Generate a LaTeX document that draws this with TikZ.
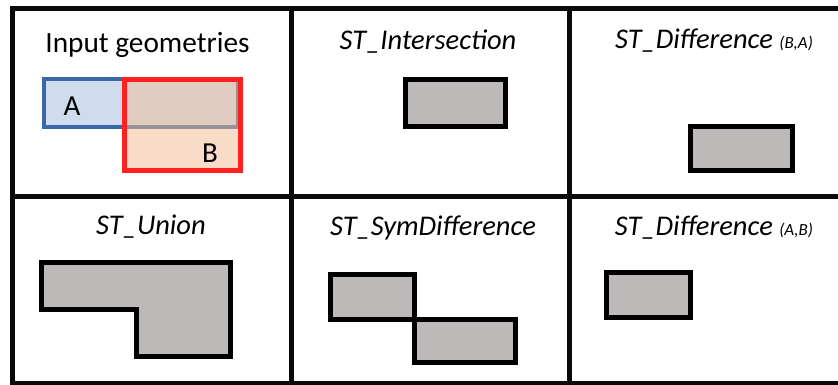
\documentclass[tikz,border=0pt]{standalone}
\usepackage{fontspec}
\setmainfont{Carlito}
\definecolor{gridk}{HTML}{0A0A0A}
\definecolor{ablue}{HTML}{CFDCEE}
\definecolor{ablueline}{HTML}{3A67A8}
\definecolor{bpeach}{RGB}{245,187,145}
\definecolor{bred}{HTML}{FF2020}
\definecolor{resgray}{HTML}{BDB9B8}
\newcommand\smallargs[1]{{\fontsize{17}{19}\selectfont\itshape #1}}
\tikzset{
  gridline/.style={draw=gridk, line width=5pt, line cap=rect},
  result/.style={fill=resgray, draw=black, line width=5pt},
  ttl/.style={anchor=base, inner sep=0pt, font=\fontsize{28.5}{31}\selectfont\itshape},
  ttlup/.style={anchor=base, inner sep=0pt, font=\fontsize{29.3}{32}\selectfont},
  lbl/.style={anchor=base, inner sep=0pt, font=\fontsize{29}{32}\selectfont}
}
\begin{document}
\begin{tikzpicture}[x=1pt, y=-1pt]
\useasboundingbox (0,0) rectangle (838,385);
\fill[white] (0,0) rectangle (838,385);
% grid
\draw[gridline] (12.5,383) -- (12.5,9) -- (845,9);
\draw[gridline] (12.5,196) -- (845,196);
\draw[gridline] (12.5,383) -- (845,383);
\draw[gridline] (291,9) -- (291,383);
\draw[gridline] (569,9) -- (569,383);
% titles
\node[ttlup] (tin) at (147.5,53) {Input geometries};
\node[ttl] (tint) at (428,50) {ST\_Intersection};
\node[ttl] (tdba) at (714,49) {ST\_Difference \smallargs{(B,A)}};
\node[ttl] (tuni) at (151,234) {ST\_Union};
\node[ttl] (tsym) at (433,235) {ST\_SymDifference};
\node[ttl] (tdab) at (714,235) {ST\_Difference \smallargs{(A,B)}};
% input geometries
\draw[fill=ablue, draw=ablueline, line width=4pt] (44,79) rectangle (238,127);
\fill[bpeach, fill opacity=0.5] (124,80) rectangle (240,170);
\draw[bred, line width=5pt] (124,80) rectangle (240,170);
\node[lbl] (la) at (72,116) {A};
\node[lbl] (lb) at (210,162) {B};
% results
\draw[result] (405.5,79.5) rectangle (505.5,126.5);
\draw[result] (690.5,126.5) rectangle (792.5,170.5);
\draw[result] (41.5,262.5) -- (230.5,262.5) -- (230.5,356.5) -- (136,356.5) -- (136,309.5) -- (41.5,309.5) -- cycle;
\draw[result] (330.5,274.5) rectangle (414,319);
\draw[result] (414,319) rectangle (515.5,362.5);
\draw[result] (606.5,272.5) rectangle (690.5,317.5);
\end{tikzpicture}
\end{document}
